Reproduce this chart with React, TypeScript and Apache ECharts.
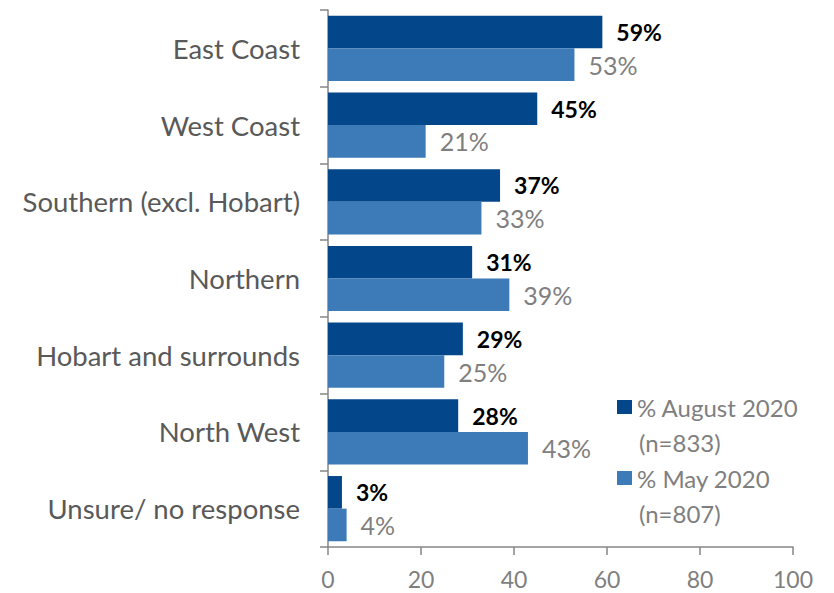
import React, { useEffect, useRef } from "react";
import * as echarts from "echarts";

const categories = [
  "East Coast",
  "West Coast",
  "Southern (excl. Hobart)",
  "Northern",
  "Hobart and surrounds",
  "North West",
  "Unsure/ no response",
];
const august2020 = [59, 45, 37, 31, 29, 28, 3];
const may2020 = [53, 21, 33, 39, 25, 43, 4];
const seriesNames = ["% August 2020", "% May 2020"];
const sampleNotes = ["(n=833)", "(n=807)"];
const xTicks = [0, 20, 40, 60, 80, 100];

const FONT = "Lato";
const DARK = "#03468A";
const LIGHT = "#3D7AB8";

export default function App() {
  const ref = useRef<HTMLDivElement>(null);
  useEffect(() => {
    const chart = echarts.init(ref.current!, undefined, { renderer: "svg" });
    chart.setOption({
      animation: false,
      grid: { left: 328, right: 41, top: 10, bottom: 46, containLabel: false },
      xAxis: {
        type: "value",
        min: xTicks[0],
        max: xTicks[xTicks.length - 1],
        interval: 20,
        splitLine: { show: false },
        axisLine: { show: true, lineStyle: { color: "#868686", width: 1.5 } },
        axisTick: { show: true, length: 8, lineStyle: { color: "#868686", width: 1.5 } },
        axisLabel: { color: "#7F7F7F", fontSize: 23, fontFamily: FONT, margin: 20 },
      },
      yAxis: {
        type: "category",
        inverse: true,
        data: categories,
        axisLine: { show: true, lineStyle: { color: "#868686", width: 1.5 } },
        axisTick: { show: true, length: 8, lineStyle: { color: "#868686", width: 1.5 } },
        axisLabel: { color: "#595959", fontSize: 27.5, fontFamily: FONT, margin: 28 },
      },
      legend: {
        orient: "vertical",
        left: 617,
        top: 393,
        itemWidth: 15,
        itemHeight: 14,
        itemGap: 43,
        icon: "rect",
        padding: 0,
        textStyle: { color: "#7F7F7F", fontSize: 24, lineHeight: 28, fontFamily: FONT },
        data: seriesNames,
      },
      graphic: sampleNotes.map((t, i) => ({
        type: "text",
        left: 639,
        top: 430 + i * 71,
        style: { text: t, fill: "#7F7F7F", font: `24px ${FONT}` },
      })),
      series: [
        {
          name: seriesNames[0],
          type: "bar",
          data: august2020,
          barGap: "0%",
          barCategoryGap: "15%",
          itemStyle: { color: DARK },
          label: {
            show: true,
            position: "right",
            distance: 14,
            formatter: "{c}%",
            color: "#000000",
            fontWeight: "bold",
            fontSize: 23,
            fontFamily: FONT,
          },
        },
        {
          name: seriesNames[1],
          type: "bar",
          data: may2020,
          barGap: "0%",
          barCategoryGap: "15%",
          itemStyle: { color: LIGHT },
          label: {
            show: true,
            position: "right",
            distance: 14,
            formatter: "{c}%",
            color: "#7F7F7F",
            fontSize: 25,
            fontFamily: FONT,
          },
        },
      ],
    });
    return () => chart.dispose();
  }, []);
  return (
    <div
      ref={ref}
      style={{ position: "absolute", left: 0, top: 0, width: 834, height: 593, background: "#fff" }}
    />
  );
}
